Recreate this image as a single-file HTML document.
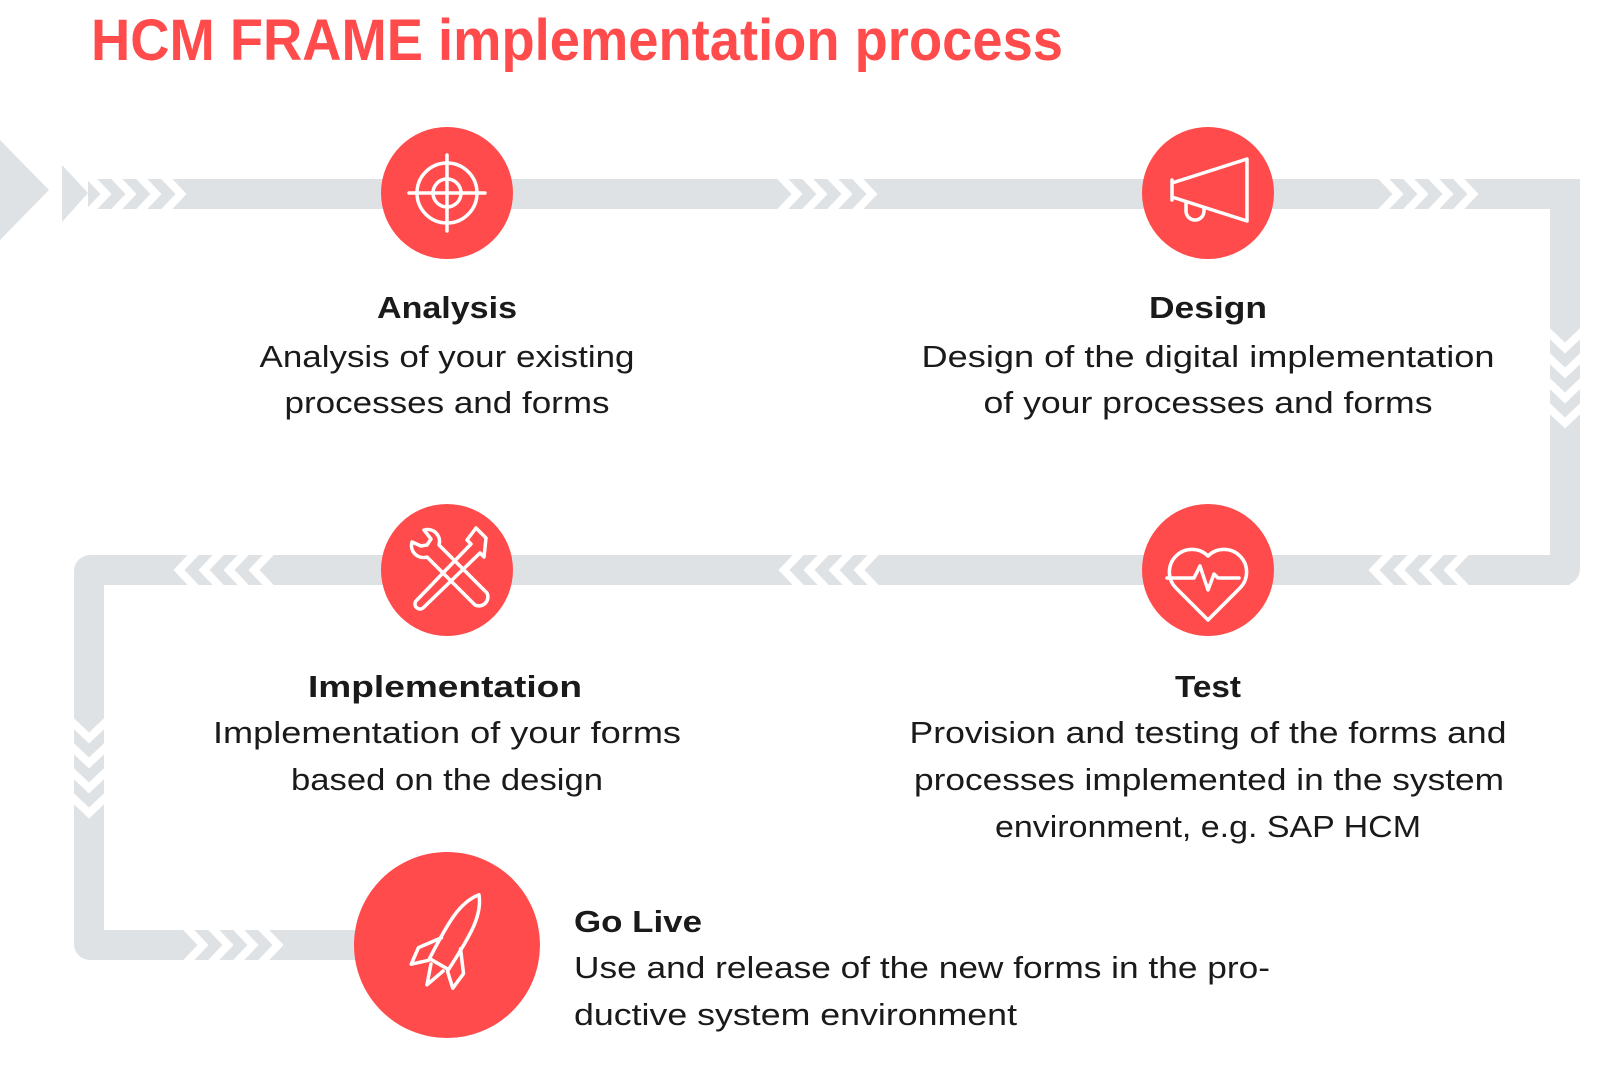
<!DOCTYPE html>
<html><head><meta charset="utf-8"><style>html,body{margin:0;padding:0;background:#fff}svg{display:block}</style></head>
<body>
<svg width="1600" height="1079" viewBox="0 0 1600 1079" xmlns="http://www.w3.org/2000/svg" font-family="Liberation Sans, sans-serif">
<g fill="#dfe2e5">
  <polygon points="0,140 49,190 0,240"/>
  <polygon points="62,165 88,193 62,222"/>
  <rect x="88" y="179" width="1492" height="30" rx="0"/>
  <path d="M1550,179 h14 a16,16 0 0 1 16,16 v374 a16,16 0 0 1 -16,16 h-14 z"/>
  <rect x="1550" y="195" width="30" height="374"/>
  <rect x="90" y="555" width="1480" height="30"/>
  <path d="M104,555 h-14 a16,16 0 0 0 -16,16 v373 a16,16 0 0 0 16,16 h14 z"/>
  <rect x="74" y="571" width="30" height="373"/>
  <rect x="90" y="930" width="300" height="30"/>
</g>
<g stroke="#fff" stroke-width="8" fill="none">
  <path d="M88,175 l18,19 l-18,19 M113,175 l18,19 l-18,19 M138,175 l18,19 l-18,19 M163,175 l18,19 l-18,19"/>
  <path d="M779,175 l18,19 l-18,19 M804,175 l18,19 l-18,19 M829,175 l18,19 l-18,19 M854,175 l18,19 l-18,19"/>
  <path d="M1380,175 l18,19 l-18,19 M1405,175 l18,19 l-18,19 M1430,175 l18,19 l-18,19 M1455,175 l18,19 l-18,19"/>
  <path d="M1546,330 l19,18 l19,-18 M1546,355 l19,18 l19,-18 M1546,380 l19,18 l19,-18 M1546,405 l19,18 l19,-18"/>
  <path d="M1467,551 l-18,19 l18,19 M1442,551 l-18,19 l18,19 M1417,551 l-18,19 l18,19 M1392,551 l-18,19 l18,19"/>
  <path d="M877,551 l-18,19 l18,19 M852,551 l-18,19 l18,19 M827,551 l-18,19 l18,19 M802,551 l-18,19 l18,19"/>
  <path d="M272,551 l-18,19 l18,19 M247,551 l-18,19 l18,19 M222,551 l-18,19 l18,19 M197,551 l-18,19 l18,19"/>
  <path d="M70,720 l19,18 l19,-18 M70,745 l19,18 l19,-18 M70,770 l19,18 l19,-18 M70,795 l19,18 l19,-18"/>
  <path d="M185,926 l18,19 l-18,19 M210,926 l18,19 l-18,19 M235,926 l18,19 l-18,19 M260,926 l18,19 l-18,19"/>
</g>
<g fill="#ff4b4b">
  <circle cx="447" cy="193" r="66"/>
  <circle cx="1208" cy="193" r="66"/>
  <circle cx="447" cy="570" r="66"/>
  <circle cx="1208" cy="570" r="66"/>
  <circle cx="447" cy="945" r="93"/>
</g>
<g stroke="#fff" stroke-width="3.5" fill="none" stroke-linecap="round" stroke-linejoin="round">
  <circle cx="447" cy="193" r="30"/><circle cx="447" cy="193" r="14"/>
  <path d="M447,155 v76 M409,193 h76"/>
  <path d="M1172,183 l75,-24 v62 l-75,-24 z M1172,180 v20"/>
  <path d="M1186,203 v8 a9,9 0 0 0 18,0 v-3"/>
  <path d="M412,542 a12,12 0 0 0 15,15 l48,48 a9,9 0 0 0 12,-12 l-48,-48 a12,12 0 0 0 -15,-15 l7,9 -4,6 -6,1 z"/>
  <path d="M486,538 l-10,-10 -9,12 4,4 -55,57 a5,5 0 0 0 7,7 l57,-55 4,4 z"/>
  <path d="M1176,588 a21,21 0 0 1 32,-32 a21,21 0 0 1 32,32 M1176,588 l32,32 32,-32"/>
  <path d="M1167,578 h27 l6,-12 8,24 6,-16 4,4 h21"/>
  <g transform="translate(450,945) rotate(30)">
    <path d="M0,-58 C13,-42 13,-20 11,22 L-11,22 C-13,-20 -13,-42 0,-58 z"/>
    <path d="M-11,-2 L-26,18 L-24,36 L-11,24"/>
    <path d="M11,-2 L26,18 L24,36 L11,24"/>
    <path d="M-7,26 L0,46 L7,26"/>
  </g>
</g>
<g fill="#ff4b4b" font-weight="bold">
  <text x="91" y="60" font-size="58" textLength="972" lengthAdjust="spacingAndGlyphs">HCM FRAME implementation process</text>
</g>
<g fill="#1a1a1a" text-anchor="middle" font-size="31">
  <text x="447" y="318" font-weight="bold" textLength="140" lengthAdjust="spacingAndGlyphs">Analysis</text>
  <text x="447" y="367" textLength="375" lengthAdjust="spacingAndGlyphs">Analysis of your existing</text>
  <text x="447" y="413" textLength="325" lengthAdjust="spacingAndGlyphs">processes and forms</text>
  <text x="1208" y="318" font-weight="bold" textLength="118" lengthAdjust="spacingAndGlyphs">Design</text>
  <text x="1208" y="367" textLength="573" lengthAdjust="spacingAndGlyphs">Design of the digital implementation</text>
  <text x="1208" y="413" textLength="449" lengthAdjust="spacingAndGlyphs">of your processes and forms</text>
  <text x="445" y="697" font-weight="bold" textLength="274" lengthAdjust="spacingAndGlyphs">Implementation</text>
  <text x="447" y="743" textLength="468" lengthAdjust="spacingAndGlyphs">Implementation of your forms</text>
  <text x="447" y="790" textLength="312" lengthAdjust="spacingAndGlyphs">based on the design</text>
  <text x="1208" y="697" font-weight="bold" textLength="66" lengthAdjust="spacingAndGlyphs">Test</text>
  <text x="1208" y="743" textLength="597" lengthAdjust="spacingAndGlyphs">Provision and testing of the forms and</text>
  <text x="1209" y="790" textLength="590" lengthAdjust="spacingAndGlyphs">processes implemented in the system</text>
  <text x="1208" y="837" textLength="426" lengthAdjust="spacingAndGlyphs">environment, e.g. SAP HCM</text>
</g>
<g fill="#1a1a1a" font-size="31">
  <text x="574" y="932" font-weight="bold" textLength="128" lengthAdjust="spacingAndGlyphs">Go Live</text>
  <text x="574" y="978" textLength="696" lengthAdjust="spacingAndGlyphs">Use and release of the new forms in the pro-</text>
  <text x="574" y="1025" textLength="443" lengthAdjust="spacingAndGlyphs">ductive system environment</text>
</g>
</svg>
</body></html>
